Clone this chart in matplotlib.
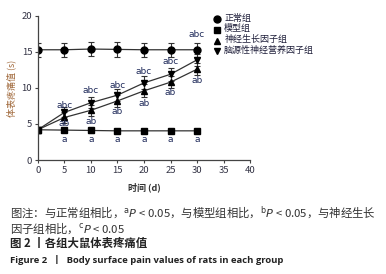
import numpy as np
import matplotlib
matplotlib.use('Agg')
import matplotlib.pyplot as plt
from matplotlib.lines import Line2D

plt.rcParams['font.family'] = ['Noto Sans CJK SC', 'DejaVu Sans']
plt.rcParams['mathtext.fontset'] = 'dejavusans'

# data
days = [0, 5, 10, 15, 20, 25, 30]
normal = [15.3, 15.3, 15.4, 15.35, 15.3, 15.3, 15.3]
normal_err = [1.0, 1.0, 1.0, 1.0, 1.0, 1.0, 1.0]
model = [4.2, 4.15, 4.1, 4.05, 4.05, 4.05, 4.05]
model_err = [0.4, 0.3, 0.3, 0.3, 0.3, 0.3, 0.3]
ngf = [4.2, 5.9, 6.9, 8.2, 9.6, 10.8, 12.6]
ngf_err = [0.4, 0.8, 0.8, 0.8, 0.9, 0.8, 0.8]
bdnf = [4.2, 6.6, 7.95, 9.0, 10.7, 11.9, 13.9]
bdnf_err = [0.4, 0.7, 0.8, 0.8, 0.9, 0.9, 0.8]

legend_names = ['正常组', '模型组', '神经生长因子组', '脑源性神经营养因子组']

# significance letters
sig_days = [5, 10, 15, 20, 25, 30]
sig_top_y = [7.5, 9.6, 10.3, 12.3, 13.7, 17.4]
sig_top = ['abc', 'abc', 'abc', 'abc', 'abc', 'abc']
sig_mid_y = [5.0, 5.3, 6.8, 7.9, 9.3, 11.1]
sig_mid = ['ab', 'ab', 'ab', 'ab', 'ab', 'ab']
sig_low_y = [2.8, 2.8, 2.8, 2.8, 2.8, 2.8]
sig_low = ['a', 'a', 'a', 'a', 'a', 'a']

fig = plt.figure(figsize=(3.86, 2.74), dpi=100)
ax = fig.add_axes([0.098, 0.416, 0.55, 0.526])

lc = '#333333'
markers = ['o', 's', '^', 'v']
series = [(normal, normal_err), (model, model_err), (ngf, ngf_err), (bdnf, bdnf_err)]
for (vals, err), mk in zip(series, markers):
    ax.errorbar(days, vals, yerr=err, color=lc, marker=mk, markersize=5,
                linewidth=0.9, elinewidth=0.8, capsize=2.5, capthick=0.8,
                markeredgecolor='black', markerfacecolor='black')

ac = '#1f2a5a'
for ys, ts in [(sig_top_y, sig_top), (sig_mid_y, sig_mid), (sig_low_y, sig_low)]:
    for d, y, t in zip(sig_days, ys, ts):
        ax.text(d, y, t, ha='center', va='center', fontsize=6.5, color=ac,
                family='DejaVu Sans')

ax.set_xlim(0, 40)
ax.set_ylim(0, 20)
ax.set_xticks(range(0, 41, 5))
ax.set_yticks(range(0, 21, 5))
for s in ['top', 'right']:
    ax.spines[s].set_visible(False)
for s in ['left', 'bottom']:
    ax.spines[s].set_color('#444444')
    ax.spines[s].set_linewidth(0.9)
ax.tick_params(labelsize=6.8, colors='#444444', length=2.5, width=0.8, pad=1.5)
for lab in ax.get_xticklabels() + ax.get_yticklabels():
    lab.set_color('#333344')

ax.set_xlabel('时间 (d)', fontsize=6.5, fontweight='bold', color='#333333', labelpad=6)
ax.set_ylabel('体表疼痛值 (s)', fontsize=6.5, color='#a0683a', labelpad=4)

handles = [Line2D([], [], linestyle='none', marker=mk, markersize=5, color='black')
           for mk in markers]
leg = ax.legend(handles, legend_names, loc='upper left', bbox_to_anchor=(0.81, 1.03),
                frameon=False, prop={'family': 'Noto Sans CJK SC', 'size': 6.5},
                handlelength=0.8, handletextpad=0.4,
                labelspacing=0.2, borderaxespad=0.0)
for t in leg.get_texts():
    t.set_color('#1f1f3a')
    t.set_y(1.5)  # lift CJK text to line up with markers

cap = '#333333'
fig.text(0.026, 0.226, '图注：与正常组相比，$^{\\mathrm{a}}P$ < 0.05，与模型组相比，$^{\\mathrm{b}}P$ < 0.05，与神经生长',
         fontsize=8.2, color=cap, va='center')
fig.text(0.026, 0.168, '因子组相比，$^{\\mathrm{c}}P$ < 0.05', fontsize=8.2, color=cap, va='center')
fig.text(0.026, 0.113, '图 2 丨各组大鼠体表疼痛值', fontsize=8.2, fontweight='bold',
         color='#222222', va='center')
fig.text(0.026, 0.051, 'Figure 2  丨  Body surface pain values of rats in each group',
         fontsize=6.8, fontweight='bold', color='#222222', va='center',
         family=['Open Sans', 'Noto Sans CJK SC'])

fig.savefig('out.png', dpi=100)
